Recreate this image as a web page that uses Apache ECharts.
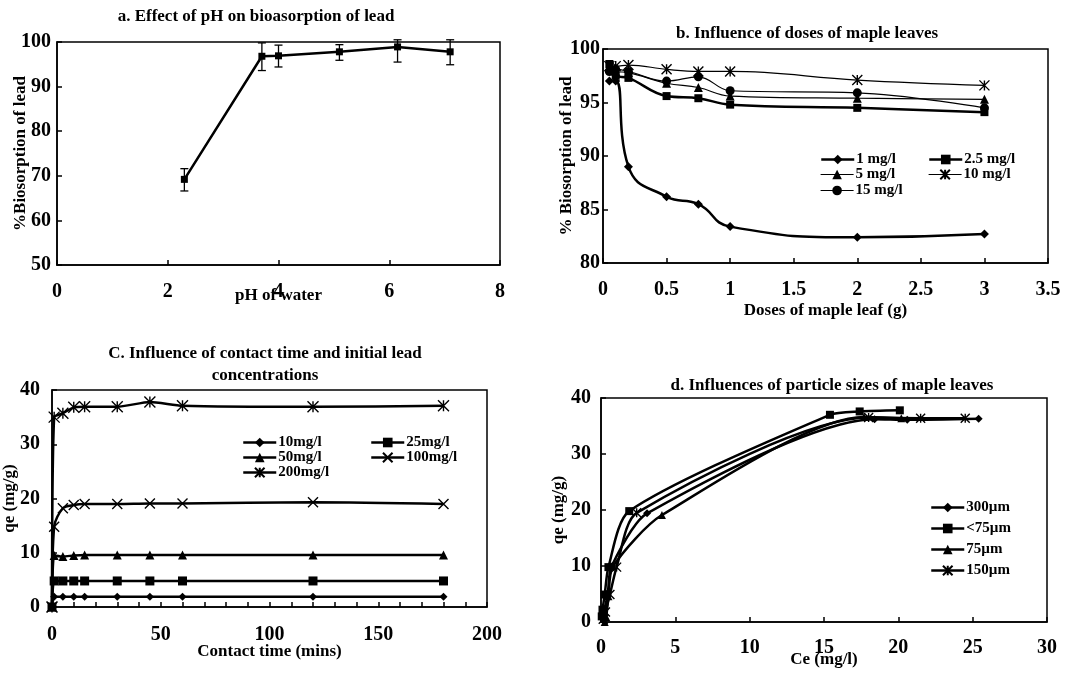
<!DOCTYPE html>
<html>
<head>
<meta charset="utf-8">
<title>Biosorption of lead by maple leaves</title>
<script src="https://cdn.jsdelivr.net/npm/echarts@6/dist/echarts.min.js"></script>
<style>
  html, body { margin: 0; padding: 0; background: #fff; }
  #main { width: 1082px; height: 673px; }
</style>
</head>
<body>
<div id="main"></div>
<script>
// a. effect of pH
var phX = [2.3, 3.7, 4.0, 5.1, 6.15, 7.1];
var phY = [69.2, 96.8, 96.9, 97.8, 98.9, 97.8];
var phLow = [66.6, 93.6, 94.4, 95.9, 95.5, 94.9];
var phHigh = [71.6, 99.8, 99.3, 99.4, 100.5, 100.5];

// b. doses of maple leaves (g) vs % biosorption
var doseX = [0.05, 0.1, 0.2, 0.5, 0.75, 1, 2, 3];
var dose1 = [97.0, 97.0, 89.0, 86.2, 85.5, 83.4, 82.4, 82.7];
var dose2_5 = [98.6, 97.5, 97.3, 95.6, 95.4, 94.8, 94.5, 94.1];
var dose5 = [98.2, 97.9, 97.8, 96.8, 96.4, 95.6, 95.4, 95.3];
var dose10 = [98.4, 98.4, 98.5, 98.1, 97.9, 97.9, 97.1, 96.6];
var dose15 = [97.9, 98.1, 97.9, 97.0, 97.4, 96.1, 95.9, 94.5];

// c. contact time (mins) vs qe
var timeX = [0, 1, 5, 10, 15, 30, 45, 60, 120, 180];
var qe10 = [0, 1.9, 1.9, 1.9, 1.9, 1.9, 1.9, 1.9, 1.9, 1.9];
var qe25 = [0, 4.8, 4.8, 4.8, 4.8, 4.8, 4.8, 4.8, 4.8, 4.8];
var qe50 = [0, 9.5, 9.3, 9.5, 9.6, 9.6, 9.6, 9.6, 9.6, 9.6];
var qe100 = [0, 14.8, 18.2, 18.8, 19.0, 19.0, 19.1, 19.1, 19.3, 19.0];
var qe200 = [0, 35.0, 35.7, 36.8, 36.9, 36.9, 37.8, 37.1, 36.9, 37.1];

// d. particle sizes: Ce vs qe
var ce300 = [0.1, 0.2, 0.45, 0.7, 3.1, 18.4, 20.6, 25.4];
var q300 = [0.9, 1.9, 4.9, 9.9, 19.4, 36.2, 36.1, 36.3];
var ceLt75 = [0.05, 0.1, 0.25, 0.5, 1.9, 15.4, 17.4, 20.1];
var qLt75 = [1.0, 2.2, 4.9, 9.8, 19.8, 37.0, 37.6, 37.8];
var ce75 = [0.25, 0.35, 0.5, 0.8, 4.1, 17.7, 20.2];
var q75 = [0.0, 0.9, 4.6, 9.9, 19.1, 36.6, 36.4];
var ce150 = [0.15, 0.3, 0.6, 1.05, 2.4, 18.0, 21.5, 24.5];
var q150 = [0.5, 1.8, 4.9, 9.8, 19.5, 36.5, 36.4, 36.4];

var FONT = '"Liberation Serif", "Times New Roman", serif';
var STAR = 'path://M0,0L10,10M10,0L0,10M5,0L5,10';
var CROSS = 'path://M0,0L10,10M10,0L0,10';

function zip(xs, ys) {
  return xs.map(function (x, i) { return [x, ys[i]]; });
}

function lineSeries(name, idx, xs, ys, symbol, size, width, smooth) {
  var open = symbol === STAR || symbol === CROSS;
  return {
    name: name,
    type: 'line',
    xAxisIndex: idx,
    yAxisIndex: idx,
    data: zip(xs, ys),
    symbol: symbol,
    symbolSize: size,
    smooth: smooth,
    lineStyle: { color: '#000', width: width },
    itemStyle: { color: '#000', borderColor: '#000', borderWidth: open ? 1.4 : 0 },
    emphasis: { disabled: true }
  };
}

// one legend box per entry so the two-column layouts line up like the original
function legendItem(name, x, y, lw) {
  return {
    data: [name],
    left: x,
    top: y,
    padding: 0,
    itemWidth: 33,
    itemHeight: 12,
    selectedMode: false,
    lineStyle: { width: lw },
    textStyle: { fontFamily: FONT, fontWeight: 'bold', fontSize: 15, color: '#000', padding: [0, 0, 0, -3] }
  };
}

function valueAxis(idx, min, max, interval, name, nameGap, labelMargin, extra) {
  var ax = {
    type: 'value',
    gridIndex: idx,
    min: min,
    max: max,
    interval: interval,
    name: name,
    nameLocation: 'middle',
    nameGap: nameGap,
    nameMoveOverlap: false,
    nameTextStyle: { fontFamily: FONT, fontWeight: 'bold', fontSize: 17, color: '#000' },
    axisLine: { show: true, lineStyle: { color: '#000', width: 1.5 } },
    axisTick: { show: true, inside: true, length: 5, lineStyle: { color: '#000', width: 1.5 } },
    splitLine: { show: false },
    axisLabel: { fontFamily: FONT, fontWeight: 'bold', fontSize: 20, color: '#000', margin: labelMargin }
  };
  for (var k in extra) ax[k] = extra[k];
  return ax;
}

var chart = echarts.init(document.getElementById('main'));

var titleStyle = { fontFamily: FONT, fontWeight: 'bold', fontSize: 17, color: '#000', lineHeight: 22 };

var option = {
  animation: false,
  backgroundColor: '#fff',
  title: [
    { text: 'a. Effect of pH on bioasorption of lead', left: 256, top: 6, textAlign: 'center', padding: 0, textStyle: titleStyle },
    { text: 'b. Influence of doses of maple leaves', left: 807, top: 23, textAlign: 'center', padding: 0, textStyle: titleStyle },
    { text: 'C. Influence of contact time and initial lead\nconcentrations', left: 265, top: 343, textAlign: 'center', padding: 0, textStyle: titleStyle },
    { text: 'd. Influences of particle sizes of maple leaves', left: 832, top: 375, textAlign: 'center', padding: 0, textStyle: titleStyle }
  ],
  grid: [
    { left: 57, top: 42, width: 443, height: 223, show: true, borderColor: '#000', borderWidth: 1.5, backgroundColor: '#fff' },
    { left: 603, top: 49, width: 445, height: 214, show: true, borderColor: '#000', borderWidth: 1.5, backgroundColor: '#fff' },
    { left: 46, top: 390, width: 441, height: 217, show: true, borderColor: '#000', borderWidth: 1.5, backgroundColor: '#fff' },
    { left: 601, top: 398, width: 446, height: 224, show: true, borderColor: '#000', borderWidth: 1.5, backgroundColor: '#fff' }
  ],
  xAxis: [
    valueAxis(0, 0, 8, 2, 'pH of water', 22, 17),
    valueAxis(1, 0, 3.5, 0.5, 'Doses of maple leaf (g)', 39, 17),
    valueAxis(2, 0, 200, 50, 'Contact time (mins)', 36, 18, {
      minorTick: { show: true, splitNumber: 5, length: 5, lineStyle: { color: '#000', width: 1.5 } }
    }),
    valueAxis(3, 0, 30, 5, 'Ce (mg/l)', 29, 16)
  ],
  yAxis: [
    valueAxis(0, 50, 100, 10, '%Biosorption of lead', 28, 6),
    valueAxis(1, 80, 100, 5, '% Biosorption of lead', 28, 3),
    valueAxis(2, 0, 40, 10, 'qe (mg/g)', 34, 12),
    valueAxis(3, 0, 40, 10, 'qe (mg/g)', 34, 10)
  ],
  legend: [
    legendItem('1 mg/l', 820, 152, 2.5),
    legendItem('2.5 mg/l', 928, 152, 2.5),
    legendItem('5 mg/l', 820, 167, 1.2),
    legendItem('10 mg/l', 928, 167, 1.2),
    legendItem('15 mg/l', 820, 183, 1.2),
    legendItem('10mg/l', 242, 435, 2.5),
    legendItem('25mg/l', 370, 435, 2.5),
    legendItem('50mg/l', 242, 450, 2.5),
    legendItem('100mg/l', 370, 450, 2.5),
    legendItem('200mg/l', 242, 465, 2.5),
    legendItem('300µm', 930, 500, 2.5),
    legendItem('<75µm', 930, 521, 2.5),
    legendItem('75µm', 930, 542, 2.5),
    legendItem('150µm', 930, 563, 2.5)
  ],
  series: [
    // a: error bars then the line
    {
      type: 'custom',
      xAxisIndex: 0,
      yAxisIndex: 0,
      data: phX.map(function (x, i) { return [x, phLow[i], phHigh[i]]; }),
      renderItem: function (params, api) {
        var x = api.value(0);
        var lo = api.coord([x, api.value(1)]);
        var hi = api.coord([x, api.value(2)]);
        var w = 4;
        var st = { stroke: '#000', lineWidth: 1.3 };
        return {
          type: 'group',
          children: [
            { type: 'line', shape: { x1: lo[0], y1: lo[1], x2: hi[0], y2: hi[1] }, style: st },
            { type: 'line', shape: { x1: lo[0] - w, y1: lo[1], x2: lo[0] + w, y2: lo[1] }, style: st },
            { type: 'line', shape: { x1: hi[0] - w, y1: hi[1], x2: hi[0] + w, y2: hi[1] }, style: st }
          ]
        };
      },
      z: 1
    },
    lineSeries('pH', 0, phX, phY, 'rect', 7, 2.5, false),
    // b
    lineSeries('1 mg/l', 1, doseX, dose1, 'diamond', 9, 2.5, 0.5),
    lineSeries('2.5 mg/l', 1, doseX, dose2_5, 'rect', 8, 2.5, 0.4),
    lineSeries('5 mg/l', 1, doseX, dose5, 'triangle', 9, 1.2, 0.4),
    lineSeries('10 mg/l', 1, doseX, dose10, STAR, 10, 1.2, 0.4),
    lineSeries('15 mg/l', 1, doseX, dose15, 'circle', 9, 1.2, 0.4),
    // c
    lineSeries('10mg/l', 2, timeX, qe10, 'diamond', 8, 2.5, 0.2),
    lineSeries('25mg/l', 2, timeX, qe25, 'rect', 9, 2.5, 0.2),
    lineSeries('50mg/l', 2, timeX, qe50, 'triangle', 9, 2.5, 0.2),
    lineSeries('100mg/l', 2, timeX, qe100, CROSS, 10, 2.5, 0.3),
    lineSeries('200mg/l', 2, timeX, qe200, STAR, 11, 2.5, 0.2),
    // d
    lineSeries('300µm', 3, ce300, q300, 'diamond', 8, 2.5, 0.25),
    lineSeries('<75µm', 3, ceLt75, qLt75, 'rect', 8, 2.5, 0.25),
    lineSeries('75µm', 3, ce75, q75, 'triangle', 8, 2.5, 0.25),
    lineSeries('150µm', 3, ce150, q150, STAR, 9, 2.5, 0.25)
  ]
};

chart.setOption(option);
</script>
</body>
</html>
